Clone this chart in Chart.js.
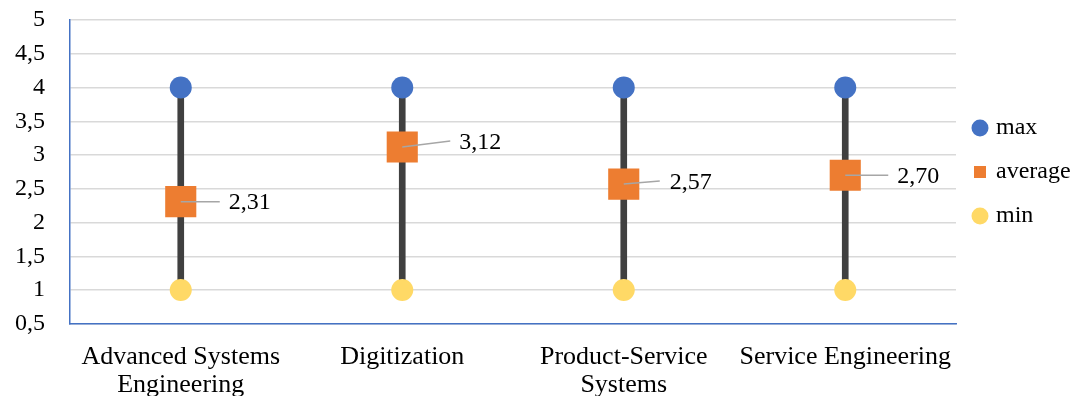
<!DOCTYPE html>
<html lang="en">
<head>
    <meta charset="UTF-8">
    <title>Min / Average / Max</title>
    <script src="https://cdn.jsdelivr.net/npm/chart.js"></script>
    <style>
        body { margin: 0; background: #fff; }
        canvas { display: block; }
    </style>
</head>
<body>
    <canvas id="chart" width="1075" height="396"></canvas>

    <script>
        // data
        const categories = [
            ['Advanced Systems', 'Engineering'],
            'Digitization',
            ['Product-Service', 'Systems'],
            'Service Engineering'
        ];
        const maxValues = [4, 4, 4, 4];
        const avgValues = [2.31, 3.12, 2.57, 2.70];
        const minValues = [1, 1, 1, 1];

        // label placement for the average values: [leader end dx, leader end dy, text dx, text dy]
        const labelOffsets = [[39, 0, 48, 1], [48, -6, 57, -4], [36, -3, 46, -1], [43, 0, 52, 1]];

        const serif = '"Liberation Serif", "Times New Roman", serif';
        const fmt = v => v.toFixed(2).replace('.', ',');

        const avgLabels = {
            id: 'avgLabels',
            afterDatasetsDraw(chart) {
                const ctx = chart.ctx;
                const meta = chart.getDatasetMeta(1);
                ctx.save();
                meta.data.forEach((pt, i) => {
                    const o = labelOffsets[i];
                    ctx.strokeStyle = '#a6a6a6';
                    ctx.lineWidth = 1.5;
                    ctx.beginPath();
                    ctx.moveTo(pt.x, pt.y);
                    ctx.lineTo(pt.x + o[0], pt.y + o[1]);
                    ctx.stroke();
                    ctx.fillStyle = '#000';
                    ctx.font = '24px ' + serif;
                    ctx.textAlign = 'left';
                    ctx.textBaseline = 'middle';
                    ctx.fillText(fmt(avgValues[i]), pt.x + o[2], pt.y + o[3]);
                });
                ctx.restore();
            }
        };

        new Chart(document.getElementById('chart').getContext('2d'), {
            type: 'bar',
            data: {
                labels: categories,
                datasets: [
                    { type: 'line', label: 'max', data: maxValues, showLine: false, pointStyle: 'circle',
                      pointRadius: 11, pointHoverRadius: 11, backgroundColor: '#4472c4', borderColor: '#4472c4', borderWidth: 0, order: 1 },
                    { type: 'line', label: 'average', data: avgValues, showLine: false, pointStyle: 'rect',
                      pointRadius: 22, pointHoverRadius: 22, backgroundColor: '#ed7d31', borderColor: '#ed7d31', borderWidth: 0, order: 0 },
                    { type: 'line', label: 'min', data: minValues, showLine: false, pointStyle: 'circle',
                      pointRadius: 11, pointHoverRadius: 11, backgroundColor: '#ffd966', borderColor: '#ffd966', borderWidth: 0, order: 2 },
                    { type: 'bar', label: 'range', data: minValues.map((m, i) => [m, maxValues[i]]),
                      backgroundColor: '#404040', barThickness: 6, order: 10 }
                ]
            },
            options: {
                responsive: false,
                animation: false,
                layout: { autoPadding: false, padding: { top: 20, left: -10, right: 0, bottom: -22 } },
                plugins: {
                    tooltip: { enabled: false },
                    legend: {
                        position: 'right',
                        fullSize: false,
                        maxWidth: 119,
                        labels: {
                            filter: item => item.text !== 'range',
                            sort: (a, b) => a.datasetIndex - b.datasetIndex,
                            usePointStyle: true,
                            boxHeight: 12,
                            boxWidth: 8,
                            padding: 20,
                            color: '#000',
                            font: { family: serif, size: 24 }
                        }
                    }
                },
                scales: {
                    x: {
                        grid: { display: true, color: 'rgba(0,0,0,0)', drawTicks: false },
                        border: { display: true, color: '#4472c4', width: 1.5 },
                        ticks: { color: '#000', padding: 19, autoSkip: false, maxRotation: 0,
                                 font: { family: serif, size: 26, lineHeight: 1.08 } }
                    },
                    y: {
                        min: 0.5,
                        max: 5,
                        grid: { color: '#d9d9d9', lineWidth: 1.5, drawTicks: false },
                        border: { display: true, color: '#4472c4', width: 1.5 },
                        ticks: { stepSize: 0.5, autoSkip: false, padding: 25, color: '#000', font: { family: serif, size: 24 },
                                 callback: v => String(v).replace('.', ',') },
                        // the tick padding would otherwise push the plot top down
                        afterFit: scale => { scale.paddingTop = 0; scale.paddingBottom = 0; }
                    }
                }
            },
            plugins: [avgLabels]
        });
    </script>
</body>
</html>
